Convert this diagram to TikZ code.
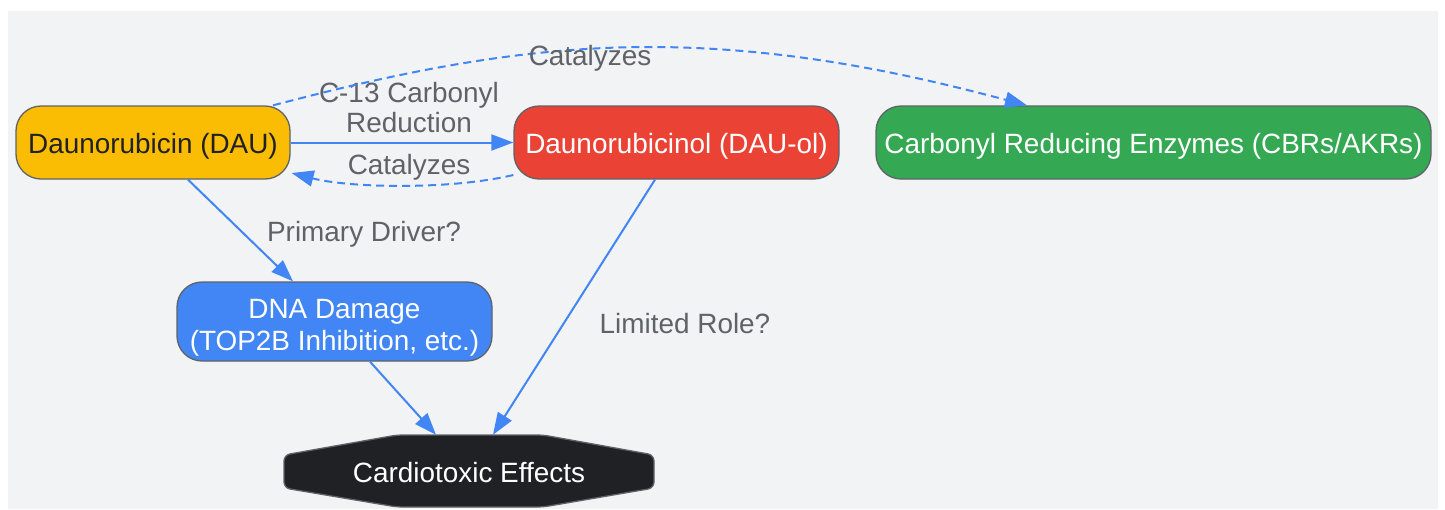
\documentclass[tikz,border=0pt]{standalone}
\usepackage{fontspec}
\setmainfont{Liberation Sans}
\usetikzlibrary{arrows.meta}
\definecolor{bg}{HTML}{F1F3F4}
\definecolor{edgeblue}{HTML}{4285F4}
\definecolor{lbl}{HTML}{5F6368}
\definecolor{border}{HTML}{5F6368}
\definecolor{yel}{HTML}{FBBC04}
\definecolor{redc}{HTML}{EA4335}
\definecolor{grn}{HTML}{34A853}
\definecolor{blu}{HTML}{4285F4}
\definecolor{blk}{HTML}{202124}
\begin{document}
\begin{tikzpicture}[x=1pt,y=-1pt,
 box/.style={draw=border, line width=1.3pt, rounded corners=25pt, inner sep=0pt, align=center, text=white, font=\fontsize{27.9}{32}\selectfont},
 one/.style={text height=22pt, text depth=0pt},
 link/.style={draw=edgeblue, line width=2pt, -{Triangle[length=22pt,width=16pt]}},
 dlink/.style={link, dash pattern=on 8pt off 5pt},
 lab/.style={text=lbl, font=\fontsize{27.9}{30}\selectfont, align=center, inner sep=0pt}]
\useasboundingbox (0,0) rectangle (1445,509);
\fill[white] (0,0) rectangle (1445,509);
\fill[bg] (8,11) rectangle (1438,509);

\node[box, one, fill=yel, text=blk, minimum width=274pt, minimum height=73pt] (dau) at (153,142.5) {Daunorubicin (DAU)};
\node[box, one, fill=redc, minimum width=325pt, minimum height=73pt] (dauol) at (676.5,142.5) {Daunorubicinol (DAU-ol)};
\node[box, one, fill=grn, minimum width=555pt, minimum height=73pt] (cbr) at (1153.5,142.5) {Carbonyl Reducing Enzymes (CBRs/AKRs)};
\node[box, fill=blu, minimum width=315pt, minimum height=79pt,
  label={[yshift=-6pt, inner sep=0pt, align=center, text=white, font=\fontsize{27.9}{32}\selectfont]center:{DNA Damage\\(TOP2B Inhibition, etc.)}}] (dna) at (334.5,321.5) {};

\draw[fill=blk, draw=border, line width=1.3pt, rounded corners=6pt]
  (397,435) -- (543,435) -- (654,455) -- (654,488) -- (543,507) -- (397,507) -- (284,488) -- (284,455) -- cycle;
\node[one, inner sep=0pt, minimum width=370pt, minimum height=72pt, text=white, font=\fontsize{27.9}{32}\selectfont] (cardio) at (469,471) {Cardiotoxic Effects};

% edges
\draw[link] (dau.east) -- (dauol.west);
\node[lab] (l1) at (409,108) {C-13 Carbonyl\\Reduction};
\draw[dlink] ([yshift=-32.5pt]dauol.west) .. controls (450,190) and (350,188) .. ([xshift=1pt,yshift=-30.5pt]dau.east);
\node[lab] (l2) at (409,167) {Catalyzes};
\draw[dlink] ([xshift=120pt]dau.north) .. controls (400,72) and (520,47) .. (650,47) .. controls (800,47) and (930,80) .. ([xshift=-126.5pt]cbr.north);
\node[lab] (l3) at (590,58) {Catalyzes};
\draw[link] ([xshift=35pt]dau.south) -- ([xshift=-41.5pt]dna.north);
\node[lab] (l4) at (364,234) {Primary Driver?};
\draw[link] ([xshift=-21.5pt]dauol.south) -- ([xshift=24pt]cardio.north);
\node[lab] (l5) at (685,324) {Limited Role?};
\draw[link] ([xshift=35.5pt]dna.south) -- ([xshift=-33pt]cardio.north);
\end{tikzpicture}
\end{document}
